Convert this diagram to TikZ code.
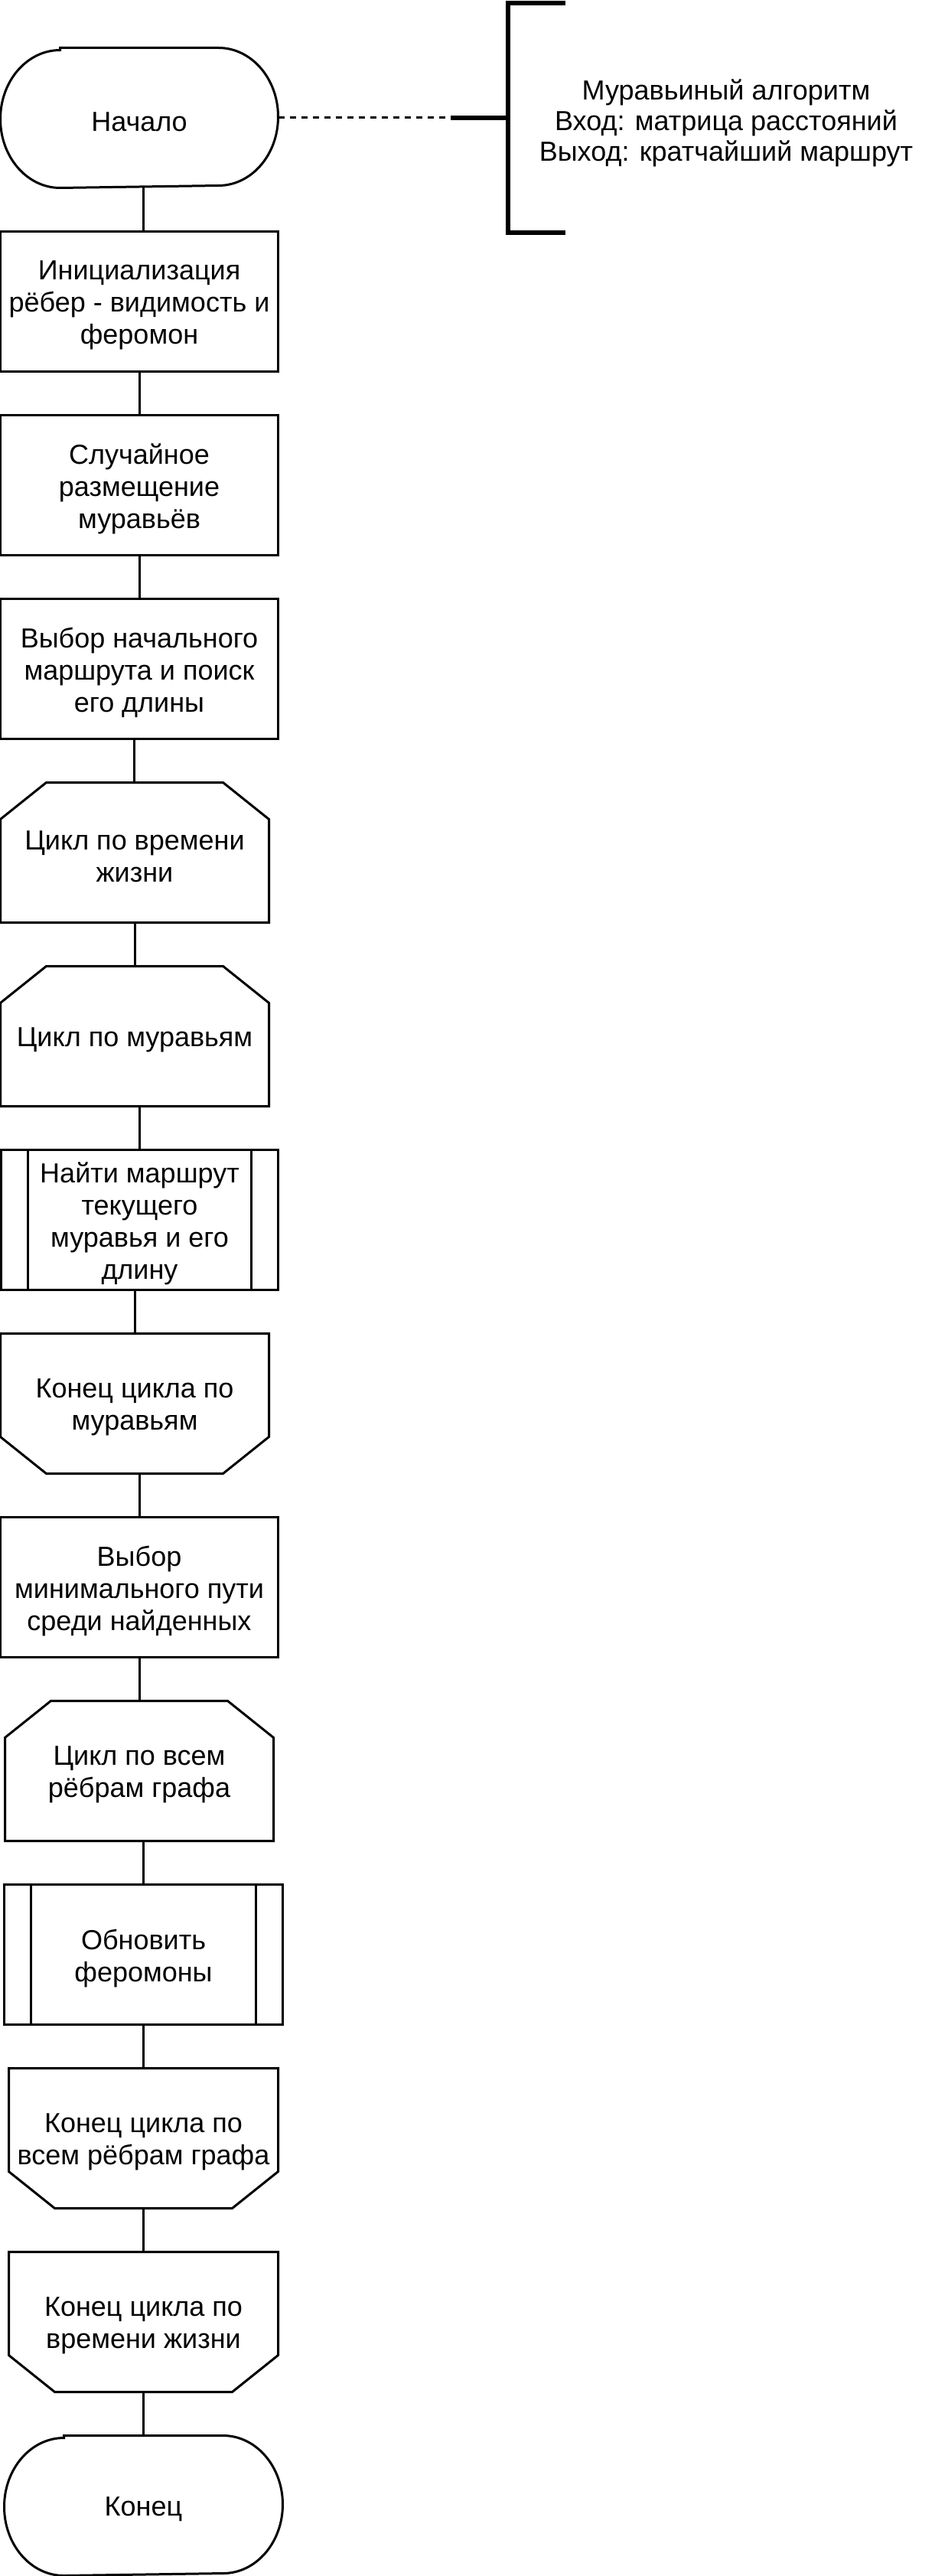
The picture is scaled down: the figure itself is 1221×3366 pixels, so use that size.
\documentclass[tikz,border=0pt]{standalone}
\usepackage{fontspec}
\setmainfont{Liberation Sans}
\tikzset{
  txt/.style={inner sep=0pt, align=center, font=\fontsize{36}{42}\selectfont, minimum height=180pt, draw=none},
  link/.style={line width=3pt},
  dashlink/.style={line width=3pt, dash pattern=on 8pt off 7pt},
  heavy/.style={line width=6pt},
}
% shapes are drawn 5pt above the text position of each node
\newcommand{\boxshape}[1]{\draw ([yshift=5pt]#1.north west) rectangle ([yshift=5pt]#1.south east);}
\newcommand{\looptop}[1]{\draw ([yshift=5pt]#1.south west) -- ([yshift=-43pt]#1.north west) -- ([xshift=60pt,yshift=5pt]#1.north west) -- ([xshift=-60pt,yshift=5pt]#1.north east) -- ([yshift=-43pt]#1.north east) -- ([yshift=5pt]#1.south east) -- cycle;}
\newcommand{\loopbot}[1]{\draw ([yshift=5pt]#1.north west) -- ([yshift=5pt]#1.north east) -- ([yshift=53pt]#1.south east) -- ([xshift=-60pt,yshift=5pt]#1.south east) -- ([xshift=60pt,yshift=5pt]#1.south west) -- ([yshift=53pt]#1.south west) -- cycle;}
\newcommand{\predproc}[1]{\boxshape{#1} \draw ([xshift=35pt,yshift=5pt]#1.north west) -- ([xshift=35pt,yshift=5pt]#1.south west); \draw ([xshift=-35pt,yshift=5pt]#1.north east) -- ([xshift=-35pt,yshift=5pt]#1.south east);}
\newcommand{\termshape}[1]{\draw ([xshift=78pt,yshift=5pt]#1.north west) -- ([xshift=-78pt,yshift=5pt]#1.north east) arc[start angle=90,end angle=-90,x radius=78pt,y radius=90pt] -- ([xshift=78pt,yshift=5pt]#1.south west) arc[start angle=270,end angle=90,x radius=78pt,y radius=90pt] -- cycle;}
\newcommand{\conn}[4]{\draw[link] ([xshift=#2,yshift=5pt]#1.south) -- ([xshift=#4,yshift=5pt]#3.north);}
\begin{document}
\begin{tikzpicture}[x=1pt,y=1pt,line width=3pt]
\useasboundingbox[fill=white] (0,0) rectangle (1221,-3366);

% nodes (placed at their text position, 5pt below the shape centre)
\node[txt, minimum width=360pt] (start) at (182,-159) {Начало};
\node[txt, minimum width=360pt] (init) at (182,-399) {Инициализация\\рёбер - видимость и\\феромон};
\node[txt, minimum width=360pt] (rand) at (182,-639) {Случайное\\размещение\\муравьёв};
\node[txt, minimum width=360pt] (choose) at (182,-879) {Выбор начального\\маршрута и поиск\\его длины};
\node[txt, minimum width=348pt] (loopA) at (176,-1119) {Цикл по времени\\жизни};
\node[txt, minimum width=348pt] (loopB) at (176,-1359) {Цикл по муравьям};
\node[txt, minimum width=359pt] (predA) at (182.5,-1599) {Найти маршрут\\текущего\\муравья и его\\длину};
\node[txt, minimum width=348pt] (endB) at (176,-1839) {Конец цикла по\\муравьям};
\node[txt, minimum width=360pt] (minp) at (182,-2079) {Выбор\\минимального пути\\среди найденных};
\node[txt, minimum width=348pt] (loopC) at (182,-2319) {Цикл по всем\\рёбрам графа};
\node[txt, minimum width=361pt] (predB) at (187.5,-2559) {Обновить\\феромоны};
\node[txt, minimum width=349pt] (endC) at (187.5,-2799) {Конец цикла по\\всем рёбрам графа};
\node[txt, minimum width=349pt] (endA) at (187.5,-3039) {Конец цикла по\\времени жизни};
\node[txt, minimum width=361pt] (finish) at (187.5,-3279) {Конец};
\node[inner sep=0pt, align=center, font=\fontsize{36}{40}\selectfont] (note) at (949,-161) {Муравьиный алгоритм\\Вход: матрица расстояний\\Выход: кратчайший маршрут};

% shapes
\termshape{start}
\boxshape{init}
\boxshape{rand}
\boxshape{choose}
\looptop{loopA}
\looptop{loopB}
\predproc{predA}
\loopbot{endB}
\boxshape{minp}
\looptop{loopC}
\predproc{predB}
\loopbot{endC}
\loopbot{endA}
\termshape{finish}

% connectors
\conn{start}{5pt}{init}{5pt}
\conn{init}{0pt}{rand}{0pt}
\conn{rand}{0pt}{choose}{0pt}
\conn{choose}{-7pt}{loopA}{-1pt}
\conn{loopA}{0pt}{loopB}{0pt}
\conn{loopB}{6pt}{predA}{-0.5pt}
\conn{predA}{-6.5pt}{endB}{0pt}
\conn{endB}{6pt}{minp}{0pt}
\conn{minp}{0pt}{loopC}{0pt}
\conn{loopC}{5pt}{predB}{-0.5pt}
\conn{predB}{0pt}{endC}{0pt}
\conn{endC}{0pt}{endA}{0pt}
\conn{endA}{0pt}{finish}{0pt}

% annotation
\coordinate (stub) at (589,-154);
\coordinate (brk) at (664,-154);
\draw[dashlink] ([yshift=5pt]start.east) -- (stub);
\draw[heavy] (stub) -- (brk);
\draw[heavy] (739,-4) -- (664,-4) -- (664,-304) -- (739,-304);
\end{tikzpicture}
\end{document}
